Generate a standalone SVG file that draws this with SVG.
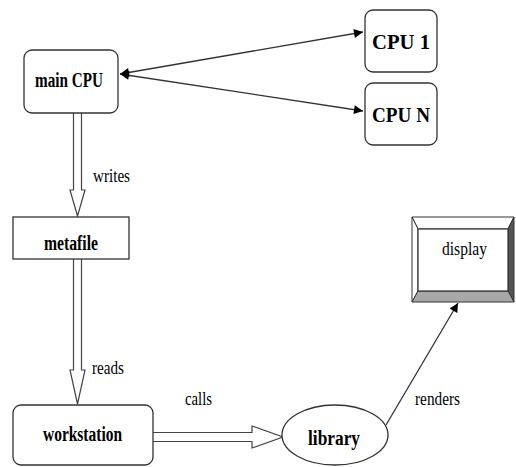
<svg xmlns="http://www.w3.org/2000/svg" width="516" height="467" viewBox="0 0 516 467">
  <style>
    .box { fill: #ffffff; stroke: #333333; stroke-width: 1.3; }
    .lbl { font-family: "Liberation Serif", "Times New Roman", serif; fill: #000000; }
    .b { font-weight: bold; font-size: 20px; }
    .n { font-size: 19px; }
    .edge { fill: none; stroke: #333333; stroke-width: 1.3; }
    .hollow { fill: #ffffff; stroke: #444444; stroke-width: 1.2; stroke-linejoin: miter; }
  </style>
  <defs>
    <marker id="tri" viewBox="0 0 10 10" refX="10" refY="5" markerWidth="10" markerHeight="9" markerUnits="userSpaceOnUse" orient="auto-start-reverse">
      <path d="M0,0 L10,5 L0,10 Z" fill="#000000"/>
    </marker>
  </defs>

  <rect width="516" height="467" fill="#ffffff"/>

  <!-- connectors -->
  <g id="connectors">
    <line class="edge" x1="120" y1="74" x2="363" y2="32" marker-start="url(#tri)" marker-end="url(#tri)"/>
    <line class="edge" x1="120" y1="74" x2="363" y2="111" marker-start="url(#tri)" marker-end="url(#tri)"/>
    <!-- writes: hollow double arrow -->
    <path class="hollow" d="M73.5,113 L73.5,190 L70,190 L77.5,216 L85,190 L81.5,190 L81.5,113"/>
    <!-- reads -->
    <path class="hollow" d="M73.5,259 L73.5,370 L70,370 L77.5,404 L85,370 L81.5,370 L81.5,259"/>
    <!-- calls -->
    <path class="hollow" d="M153,432.5 L252,432.5 L252,426 L283,437 L252,448 L252,441.5 L153,441.5"/>
    <!-- renders -->
    <line class="edge" x1="386" y1="425" x2="458" y2="303" marker-end="url(#tri)"/>
    <text class="lbl n" x="93" y="182" textLength="37" lengthAdjust="spacingAndGlyphs">writes</text>
    <text class="lbl n" x="92" y="374" textLength="32" lengthAdjust="spacingAndGlyphs">reads</text>
    <text class="lbl n" x="185" y="405" textLength="27" lengthAdjust="spacingAndGlyphs">calls</text>
    <text class="lbl n" x="415" y="405" textLength="45" lengthAdjust="spacingAndGlyphs">renders</text>
  </g>

  <g id="main-cpu">
    <rect class="box" x="24" y="50" width="94" height="63" rx="8"/>
    <text class="lbl b" x="35" y="87" textLength="68" lengthAdjust="spacingAndGlyphs">main CPU</text>
  </g>

  <g id="cpu-1">
    <rect class="box" x="365" y="10" width="72" height="62" rx="8"/>
    <text class="lbl b" x="372" y="49" textLength="58" lengthAdjust="spacingAndGlyphs">CPU 1</text>
  </g>

  <g id="cpu-n">
    <rect class="box" x="365" y="83" width="72" height="62" rx="8"/>
    <text class="lbl b" x="372" y="122" textLength="58" lengthAdjust="spacingAndGlyphs">CPU N</text>
  </g>

  <g id="metafile">
    <rect class="box" x="13" y="217" width="116" height="42"/>
    <text class="lbl b" x="44" y="250" textLength="54" lengthAdjust="spacingAndGlyphs">metafile</text>
  </g>

  <g id="workstation">
    <rect class="box" x="13" y="405" width="140" height="60" rx="8"/>
    <text class="lbl b" x="43" y="441" textLength="79" lengthAdjust="spacingAndGlyphs">workstation</text>
  </g>

  <g id="library">
    <ellipse class="box" cx="335" cy="435" rx="53" ry="30"/>
    <text class="lbl b" x="308" y="445" textLength="52" lengthAdjust="spacingAndGlyphs">library</text>
  </g>

  <g id="display">
    <!-- bevelled frame -->
    <polygon points="412,217 514,217 508,229 418,229" fill="#ffffff" stroke="#333333" stroke-width="1"/>
    <polygon points="412,217 418,229 418,291 412,302" fill="#ffffff" stroke="#333333" stroke-width="1"/>
    <polygon points="514,217 514,302 508,291 508,229" fill="#555555" stroke="#333333" stroke-width="1"/>
    <polygon points="412,302 514,302 508,291 418,291" fill="#a8a8a8" stroke="#333333" stroke-width="1"/>
    <rect x="418" y="229" width="90" height="62" fill="#ffffff" stroke="#333333" stroke-width="1.2"/>
    <text class="lbl n" x="442" y="255" textLength="45" lengthAdjust="spacingAndGlyphs">display</text>
  </g>
</svg>
